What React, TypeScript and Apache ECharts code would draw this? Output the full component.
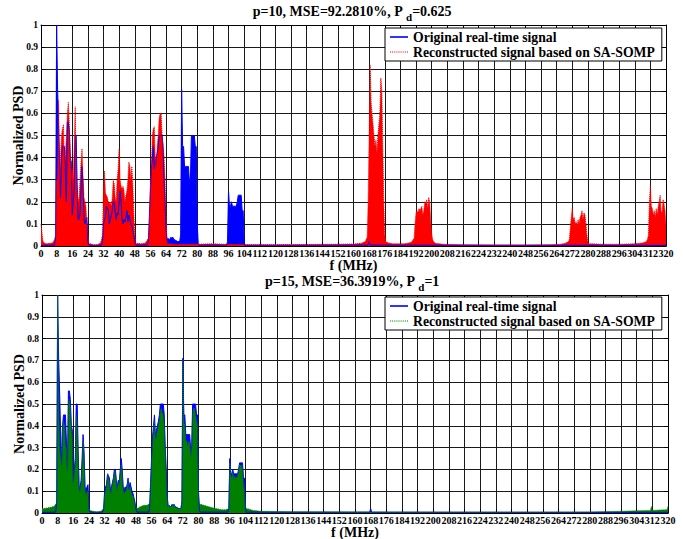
import React, { useEffect, useRef } from "react";
import * as echarts from "echarts";

// Frequency step (MHz) of the band value lists below
const STEP = 0.5;
type Band = [number, number[]]; // [start frequency (MHz), normalized PSD every STEP MHz]
type Pt = [number, number];

const NAME_ORIG = "Original real-time signal";
const NAME_REC = "Reconstructed signal based on SA-SOMP";

const titleTop = ["p=10, MSE=92.2810%, P ", "d", "=0.625"];
const titleBottom = ["p=15, MSE=36.3919%, P ", "d", "=1"];
const xLabel = "f (MHz)";
const yLabel = "Normalized PSD";

// Original real-time signal (same in both panels)
const originalBands: Band[] = [
  [7.5, [0.05, 1.0, 0.71, 0.56, 0.38, 0.22, 0.4, 0.45, 0.45, 0.45, 0.32, 0.2, 0.56, 0.56, 0.52, 0.4, 0.38, 0.14, 0.2, 0.25, 0.5, 0.5, 0.28, 0.12, 0.12, 0.15, 0.25, 0.36, 0.28, 0.12, 0.1, 0.12, 0.13, 0.02]],
  [31.5, [0.02, 0.1, 0.12, 0.13, 0.18, 0.17, 0.16, 0.1, 0.12, 0.14, 0.16, 0.2, 0.2, 0.15, 0.12, 0.15, 0.14, 0.2, 0.25, 0.2, 0.12, 0.1, 0.12, 0.11, 0.13, 0.16, 0.11, 0.14, 0.12, 0.1, 0.09, 0.07, 0.05, 0.02]],
  [55, [0.02, 0.14, 0.25, 0.35, 0.4, 0.45, 0.35, 0.38, 0.4, 0.42, 0.45, 0.5, 0.5, 0.5, 0.5, 0.45, 0.3, 0.2, 0.08, 0.03]],
  [71.5, [0.05, 0.71, 0.45, 0.45, 0.36, 0.36, 0.36, 0.36, 0.36, 0.29, 0.3, 0.5, 0.5, 0.5, 0.5, 0.45, 0.45, 0.1, 0.01]],
  [95.5, [0.02, 0.25, 0.18, 0.18, 0.2, 0.18, 0.18, 0.18, 0.18, 0.18, 0.2, 0.23, 0.23, 0.23, 0.23, 0.16, 0.16, 0.02, 0.0]],
];
const originalFloor: Pt[] = [
  [0, 0.003], [7, 0.004], [24.5, 0.004], [31, 0.004], [48.5, 0.004], [54.5, 0.004],
  [65, 0.035], [65.5, 0.03], [66, 0.03], [66.5, 0.04], [67, 0.035], [67.5, 0.04], [68, 0.03], [69, 0.025], [70, 0.02], [71, 0.02],
  [81, 0.004], [95, 0.004], [105, 0.004], [167.5, 0.004], [168, 0.02], [168.5, 0.004], [320, 0.003],
];

// Reconstruction, p = 10
const recon10Bands: Band[] = [
  [7.5, [0.05, 0.3, 0.3, 0.66, 0.3, 0.4, 0.5, 0.53, 0.55, 0.35, 0.42, 0.5, 0.6, 0.65, 0.55, 0.4, 0.3, 0.35, 0.3, 0.45, 0.63, 0.35, 0.25, 0.2, 0.22, 0.3, 0.38, 0.44, 0.32, 0.22, 0.2, 0.18, 0.1, 0.05, 0.01]],
  [31.5, [0.05, 0.25, 0.34, 0.24, 0.23, 0.22, 0.2, 0.19, 0.2, 0.18, 0.22, 0.3, 0.28, 0.22, 0.2, 0.3, 0.35, 0.44, 0.3, 0.27, 0.26, 0.27, 0.25, 0.2, 0.23, 0.25, 0.3, 0.38, 0.36, 0.3, 0.36, 0.28, 0.15, 0.05, 0.01]],
  [55, [0.03, 0.1, 0.26, 0.35, 0.5, 0.53, 0.54, 0.4, 0.35, 0.45, 0.5, 0.58, 0.6, 0.6, 0.5, 0.45, 0.4, 0.3, 0.15, 0.01]],
  [167, [0.04, 0.2, 0.5, 0.82, 0.65, 0.6, 0.55, 0.5, 0.45, 0.48, 0.42, 0.5, 0.55, 0.6, 0.76, 0.7, 0.45, 0.2, 0.05, 0.02]],
  [191, [0.03, 0.1, 0.15, 0.16, 0.15, 0.17, 0.16, 0.17, 0.18, 0.14, 0.16, 0.2, 0.19, 0.21, 0.17, 0.22, 0.2, 0.12, 0.06, 0.03, 0.02]],
  [270.5, [0.03, 0.08, 0.13, 0.17, 0.12, 0.13, 0.1, 0.11, 0.09, 0.12, 0.1, 0.13, 0.14, 0.16, 0.12, 0.15, 0.14, 0.1, 0.05, 0.02, 0.01]],
  [311, [0.05, 0.2, 0.27, 0.18, 0.17, 0.14, 0.16, 0.13, 0.17, 0.14, 0.18, 0.2, 0.23, 0.16, 0.15, 0.21, 0.19, 0.16, 0.1]],
];
const recon10Floor: Pt[] = [
  [0, 0.1], [0.5, 0.06], [1, 0.02], [2, 0.012], [3, 0.01], [4, 0.012], [5, 0.012], [6, 0.015], [7, 0.03],
  [25.5, 0.01], [27, 0.005], [29, 0.006], [30.5, 0.015], [31, 0.03],
  [49.5, 0.012], [51, 0.01], [53, 0.012], [54, 0.02], [54.5, 0.03],
  [65.5, 0.01], [68, 0.008], [72, 0.007], [80, 0.008], [88, 0.01], [96, 0.007], [104, 0.006], [120, 0.006], [136, 0.007], [152, 0.008], [160, 0.009], [164, 0.012], [166, 0.02], [166.5, 0.03],
  [177.5, 0.015], [180, 0.01], [186, 0.01], [189, 0.015], [190, 0.02], [190.5, 0.03],
  [202, 0.012], [206, 0.008], [216, 0.006], [232, 0.005], [248, 0.005], [260, 0.006], [266, 0.008], [268.5, 0.012], [270, 0.02],
  [281.5, 0.01], [288, 0.008], [296, 0.008], [304, 0.01], [308, 0.014], [310, 0.02], [310.5, 0.03],
];

// Reconstruction, p = 15
const recon15Bands: Band[] = [
  [7.5, [0.05, 1.0, 0.5, 0.3, 0.25, 0.2, 0.4, 0.42, 0.4, 0.3, 0.3, 0.18, 0.5, 0.52, 0.48, 0.38, 0.35, 0.12, 0.18, 0.22, 0.45, 0.4, 0.25, 0.1, 0.1, 0.13, 0.22, 0.33, 0.25, 0.1, 0.08, 0.1, 0.1, 0.02]],
  [31.5, [0.02, 0.08, 0.1, 0.12, 0.18, 0.16, 0.14, 0.08, 0.1, 0.13, 0.15, 0.19, 0.19, 0.13, 0.1, 0.14, 0.12, 0.18, 0.22, 0.18, 0.1, 0.09, 0.1, 0.1, 0.12, 0.15, 0.1, 0.12, 0.1, 0.08, 0.08, 0.06, 0.04, 0.03]],
  [55, [0.04, 0.12, 0.22, 0.3, 0.38, 0.42, 0.33, 0.35, 0.38, 0.4, 0.42, 0.47, 0.48, 0.46, 0.45, 0.4, 0.28, 0.18, 0.06, 0.03]],
  [71.5, [0.05, 0.7, 0.42, 0.4, 0.33, 0.33, 0.3, 0.33, 0.32, 0.25, 0.28, 0.45, 0.48, 0.48, 0.45, 0.42, 0.4, 0.08, 0.04]],
  [95.5, [0.02, 0.23, 0.17, 0.16, 0.19, 0.15, 0.17, 0.16, 0.16, 0.17, 0.19, 0.22, 0.22, 0.21, 0.22, 0.12, 0.1, 0.03, 0.02]],
];
const recon15Floor: Pt[] = [
  [0, 0.02], [2, 0.022], [4, 0.025], [6, 0.03], [7, 0.04],
  [24.5, 0.012], [26, 0.008], [28, 0.005], [30, 0.008], [31, 0.015],
  [48.5, 0.02], [50, 0.028], [52, 0.035], [53.5, 0.035], [54.5, 0.04],
  [65, 0.03], [66, 0.03], [67, 0.035], [68, 0.03], [69, 0.022], [70, 0.02], [71, 0.02],
  [81, 0.04], [84, 0.032], [88, 0.022], [92, 0.015], [94, 0.015], [95, 0.02],
  [105, 0.02], [108, 0.012], [112, 0.008], [128, 0.006], [160, 0.005], [200, 0.004], [240, 0.004], [280, 0.005], [296, 0.008], [304, 0.01],
  [311, 0.012], [311.5, 0.03], [312, 0.012], [316, 0.014], [319.5, 0.015], [320, 0.03],
];

const BLUE = "#0000ff";
const RED = "#ff0000";
const GREEN = "#008000";
const FONT = '"Liberation Serif", "Times New Roman", serif';

// legend icons (drawing styles, not data)
const SOLID_ICON = "path://M0,0h18v1.6h-18z";
let dots = "path://";
for (let i = 0; i < 18; i += 2) dots += `M${i},0h1v1h-1z`;
const DOTTED_ICON = dots;

function build(bands: Band[], floor: Pt[]): Pt[] {
  const pts: Pt[] = [];
  bands.forEach(([start, vals]) => vals.forEach((v, i) => pts.push([start + i * STEP, v])));
  floor.forEach((p) => pts.push(p));
  pts.sort((a, b) => a[0] - b[0]);
  return pts;
}

const tick = { show: true, inside: true, length: 4, lineStyle: { color: "#000" } };
const axLine = { show: true, onZero: false, lineStyle: { color: "#000", width: 1 } };
const split = { show: true, lineStyle: { color: "#1a1a1a", width: 1 } };
const tickFont = { fontFamily: FONT, fontWeight: "bold", fontSize: 10, color: "#000" };
const nameFont = { fontFamily: FONT, fontWeight: "bold", fontSize: 14, color: "#000" };

function xAxes(gridIndex: number) {
  return [
    {
      type: "value", gridIndex, min: 0, max: 320, interval: 8, position: "bottom",
      name: xLabel, nameLocation: "middle", nameGap: 12.5, nameMoveOverlap: false, nameTextStyle: nameFont,
      axisLine: axLine, axisTick: tick,
      axisLabel: { margin: 2, hideOverlap: false, ...tickFont },
      splitLine: split,
    },
    {
      type: "value", gridIndex, min: 0, max: 320, interval: 8, position: "top",
      axisLine: axLine, axisTick: tick, axisLabel: { show: false }, splitLine: { show: false },
    },
  ];
}
function yAxes(gridIndex: number) {
  return [
    {
      type: "value", gridIndex, min: 0, max: 1, interval: 0.1, position: "left",
      name: yLabel, nameLocation: "middle", nameGap: 16, nameMoveOverlap: false, nameTextStyle: nameFont,
      axisLine: axLine, axisTick: tick,
      axisLabel: { margin: 3, ...tickFont, fontSize: 9.5 },
      splitLine: split,
    },
    {
      type: "value", gridIndex, min: 0, max: 1, interval: 0.1, position: "right",
      axisLine: axLine, axisTick: tick, axisLabel: { show: false }, splitLine: { show: false },
    },
  ];
}
function lineSeries(name: string, idx: number, data: Pt[], color: string, dotted: boolean) {
  return {
    type: "line", name, xAxisIndex: idx * 2, yAxisIndex: idx * 2, data,
    symbol: "none", clip: true,
    lineStyle: { color, width: 1, type: dotted ? "dotted" : "solid" },
    itemStyle: { color },
    areaStyle: { color, opacity: 1 },
  };
}
function legend(top: number, recColor: string) {
  return {
    orient: "vertical", left: 385, top, itemWidth: 18, itemHeight: 10, itemGap: 1,
    padding: [2, 7, 2, 5], backgroundColor: "#fff", borderColor: "#000", borderWidth: 1, borderRadius: 0,
    selectedMode: false,
    textStyle: { fontFamily: FONT, fontWeight: "bold", fontSize: 13.7, color: "#000" },
    data: [
      { name: NAME_ORIG, icon: SOLID_ICON, itemStyle: { color: BLUE, borderWidth: 0 } },
      { name: NAME_REC, icon: DOTTED_ICON, itemStyle: { color: recColor, borderWidth: 0 } },
    ],
  };
}
function title(parts: string[], y: number) {
  return {
    type: "text", x: 352, y,
    style: {
      text: `{a|${parts[0]}}{s|${parts[1]}}{a|${parts[2]}}`,
      align: "center", verticalAlign: "middle",
      rich: {
        a: { fontFamily: FONT, fontWeight: "bold", fontSize: 14, fill: "#000", verticalAlign: "top", lineHeight: 15 },
        s: { fontFamily: FONT, fontWeight: "bold", fontSize: 11, fill: "#000", verticalAlign: "top", padding: [7, 0, 0, 0] },
      },
    },
  };
}

export default function App() {
  const ref = useRef<HTMLDivElement>(null);
  useEffect(() => {
    if (!ref.current) return;
    const chart = echarts.init(ref.current, null, { renderer: "svg" });
    const orig = build(originalBands, originalFloor);
    chart.setOption({
      animation: false,
      backgroundColor: "#fff",
      grid: [
        { left: 41, top: 25, width: 625, height: 221, show: false, containLabel: false, outerBoundsMode: "none" },
        { left: 42, top: 295, width: 626, height: 218, show: false, containLabel: false, outerBoundsMode: "none" },
      ],
      xAxis: [...xAxes(0), ...xAxes(1)],
      yAxis: [...yAxes(0), ...yAxes(1)],
      legend: [legend(28, RED), legend(297, GREEN)],
      graphic: [title(titleTop, 13), title(titleBottom, 283)],
      series: [
        lineSeries(NAME_ORIG, 0, orig, BLUE, false),
        lineSeries(NAME_REC, 0, build(recon10Bands, recon10Floor), RED, true),
        lineSeries(NAME_ORIG, 1, orig, BLUE, false),
        lineSeries(NAME_REC, 1, build(recon15Bands, recon15Floor), GREEN, true),
      ],
    });
    return () => chart.dispose();
  }, []);
  return <div ref={ref} style={{ position: "fixed", left: 0, top: 0, width: 683, height: 539, background: "#fff" }} />;
}
